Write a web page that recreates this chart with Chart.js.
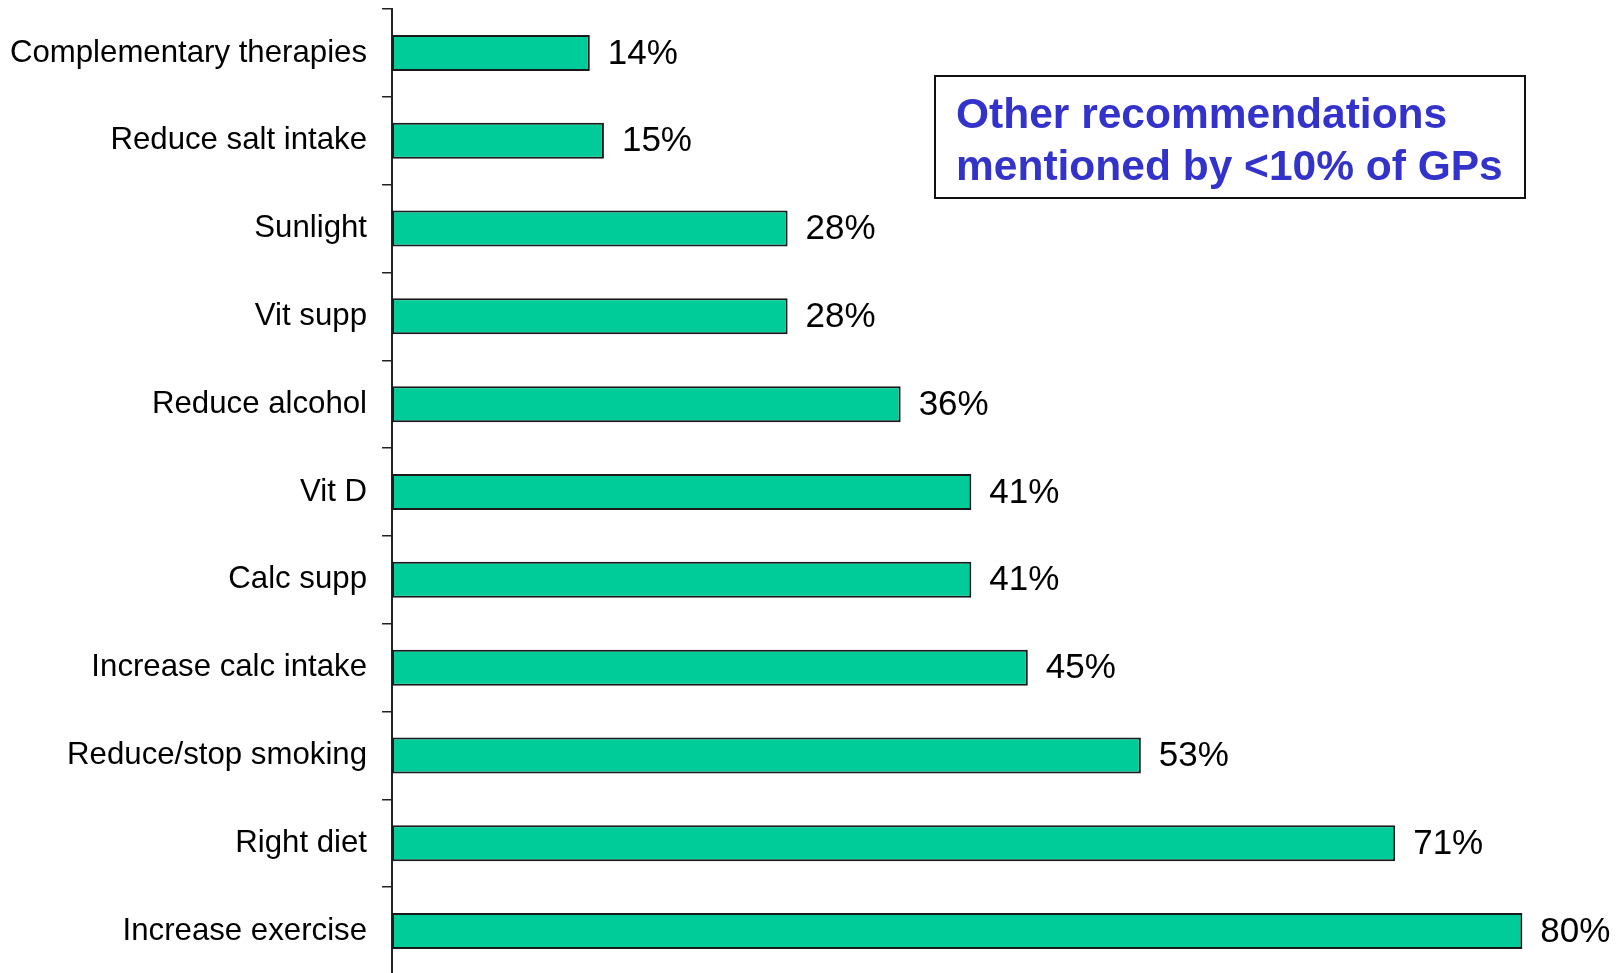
<!DOCTYPE html>
<html>
<head>
<meta charset="utf-8">
<script src="https://cdn.jsdelivr.net/npm/chart.js@4.4.0/dist/chart.umd.min.js"></script>
<style>
  html, body { margin: 0; padding: 0; background: #fff; overflow: hidden; }
  #wrap { position: relative; width: 1619px; height: 975px; }
  #note {
    position: absolute;
    left: 934px; top: 75px;
    width: 588px; height: 120px;
    border: 2px solid #111;
    box-sizing: content-box;
    padding: 0;
    font-family: "Liberation Sans", Arial, sans-serif;
    font-weight: bold;
    font-size: 42.5px;
    line-height: 51.6px;
    color: #3333cc;
  }
  #note div { padding: 11px 0 0 20px; white-space: nowrap; }
</style>
</head>
<body>
<div id="wrap">
  <canvas id="recChart" width="1619" height="975"></canvas>
  <div id="note"><div>Other recommendations<br>mentioned by &lt;10% of GPs</div></div>
</div>
<script>
// =========================
// Dados
// =========================

const categories = [
  "Complementary therapies",
  "Reduce salt intake",
  "Sunlight",
  "Vit supp",
  "Reduce alcohol",
  "Vit D",
  "Calc supp",
  "Increase calc intake",
  "Reduce/stop smoking",
  "Right diet",
  "Increase exercise",
];

const percentValues = [14, 15, 28, 28, 36, 41, 41, 45, 53, 71, 80];

const valueLabels = percentValues.map((v) => v + "%");

// =========================
// Rótulos de valor
// =========================

const valueLabelPlugin = {
  id: "valueLabels",
  afterDatasetsDraw(chart) {
    const ctx = chart.ctx;
    const meta = chart.getDatasetMeta(0);
    ctx.save();
    ctx.font = '35px "Liberation Sans", Arial, sans-serif';
    ctx.fillStyle = "#000";
    ctx.textAlign = "left";
    ctx.textBaseline = "middle";
    meta.data.forEach((bar, i) => {
      ctx.fillText(valueLabels[i], bar.x + 18, bar.y + 1);
    });
    ctx.restore();
  },
};

// =========================
// Gráfico
// =========================

Chart.defaults.font.family = '"Liberation Sans", Arial, sans-serif';

new Chart(document.getElementById("recChart"), {
  type: "bar",
  data: {
    labels: categories,
    datasets: [
      {
        data: percentValues,
        backgroundColor: "#00cc99",
        borderColor: "#1a1a1a",
        borderWidth: 2,
        borderSkipped: false,
        barPercentage: 0.41,
        categoryPercentage: 1,
      },
    ],
  },
  options: {
    indexAxis: "y",
    responsive: false,
    animation: false,
    layout: { padding: { top: 9, right: 26, bottom: 0, left: 0 } },
    plugins: {
      legend: { display: false },
      tooltip: { enabled: false },
    },
    scales: {
      x: {
        display: false,
        min: 0,
        max: 85,
      },
      y: {
        offset: true,
        afterFit: (scale) => {
          scale.width = 392;
          scale.paddingTop = 0;
          scale.paddingBottom = 0;
        },
        grid: {
          offset: true,
          drawOnChartArea: false,
          drawTicks: true,
          tickLength: 10,
          color: "#222",
          lineWidth: 1.5,
        },
        border: { display: true, color: "#222", width: 2 },
        ticks: {
          color: "#000",
          padding: 15,
          font: { size: 31.2 },
        },
      },
    },
  },
  plugins: [valueLabelPlugin],
});
</script>
</body>
</html>
